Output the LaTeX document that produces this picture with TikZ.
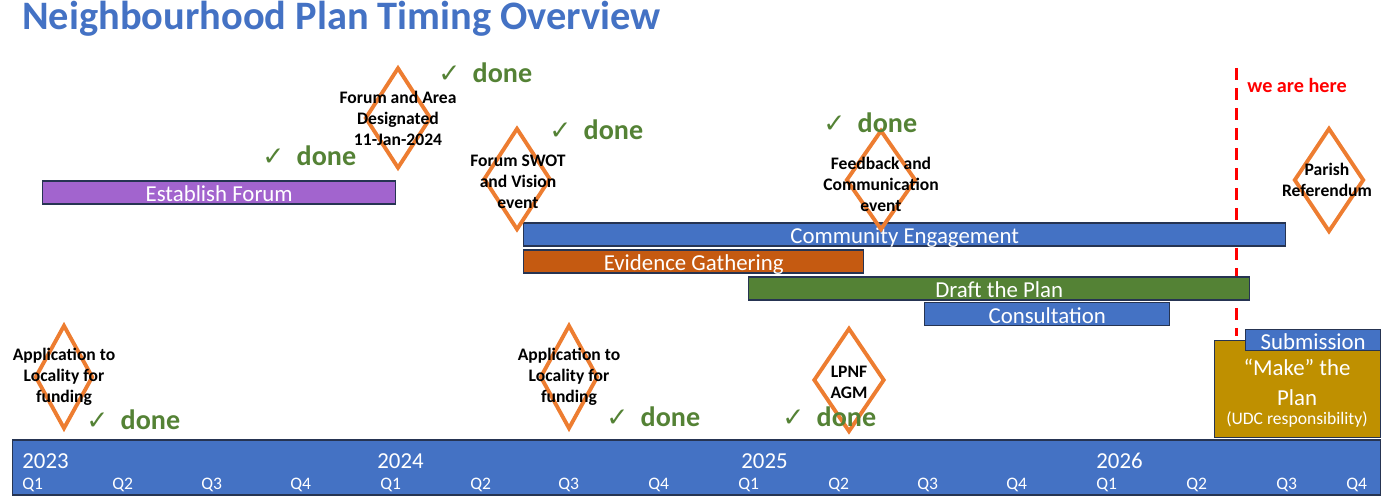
\documentclass[tikz,border=0pt]{standalone}
\usepackage{fontspec}
\setmainfont{Carlito}
\newfontfamily\symfont{DejaVu Sans}
\usepackage{tikz}
\usetikzlibrary{shapes.geometric}
\usepackage{xcolor}
\definecolor{planblue}{RGB}{68,114,196}
\definecolor{edgenavy}{RGB}{38,52,82}
\definecolor{forumpurple}{RGB}{162,100,206}
\definecolor{evidorange}{RGB}{197,90,17}
\definecolor{draftgreen}{RGB}{84,130,53}
\definecolor{makegold}{RGB}{191,144,0}
\definecolor{mileorange}{RGB}{237,125,49}
\definecolor{herered}{RGB}{255,0,0}
\newcommand{\donetick}{{\symfont\mdseries\fontsize{15}{17}\selectfont ✓}\hspace{7pt}done}

\begin{document}
\begin{tikzpicture}[x=0.02cm, y=-0.02cm, every node/.style={align=center,inner sep=0pt}, box/.style={rectangle,draw=edgenavy,line width=0.8pt,text=white,font=\fontsize{13}{15}\selectfont,minimum height={23*0.02cm},anchor=west}, bar/.style={box,text height=10.5pt,text depth=0pt}, mile/.style={diamond,draw=mileorange,line width=2.2pt,minimum width={66*0.02cm},minimum height={102*0.02cm}}, mtext/.style={font=\bfseries\fontsize{10}{12}\selectfont}, done/.style={anchor=west,text=draftgreen,font=\bfseries\fontsize{16}{18}\selectfont}, year/.style={anchor=west,text=white,font=\fontsize{13}{15}\selectfont}, qtr/.style={anchor=west,text=white,font=\fontsize{10}{12}\selectfont}, nowline/.style={herered,line width=1.7pt,dash pattern=on 0.24cm off 0.16cm}]
  \useasboundingbox (0,0) rectangle (1383,500);
  \node[anchor=west,text=planblue,font=\bfseries\fontsize{23}{26}\selectfont] (title) at (22,19) {Neighbourhood Plan Timing Overview};
  % we are here
  \coordinate (nowtop) at (1236,68); \coordinate (nowbot) at (1236,336);
  \draw[nowline] (nowtop) -- (nowbot);
  \node[anchor=west,text=herered,font=\bfseries\fontsize{11.5}{13}\selectfont] (here) at (1247,85) {we are here};
  % work streams
  \node[bar,fill=forumpurple,minimum width={353*0.02cm}] (forum) at (42,192.5) {Establish Forum};
  \node[bar,fill=planblue,minimum width={762*0.02cm}] (engage) at (523,234.5) {Community Engagement};
  \node[bar,fill=evidorange,minimum width={340*0.02cm}] (evid) at (523,261.5) {Evidence Gathering};
  \node[bar,fill=draftgreen,minimum width={501*0.02cm}] (draft) at (748,288.5) {Draft the Plan};
  \node[bar,fill=planblue,minimum width={245*0.02cm}] (consult) at (924,314) {Consultation};
  \node[box,fill=makegold,minimum width={166*0.02cm},minimum height={97*0.02cm}] (make) at (1214,389) {};
  \node[text=white,font=\fontsize{13}{17}\selectfont] (maket) at (1297,393) {“Make” the\\Plan\\[-6pt]{\fontsize{10}{12}\selectfont (UDC responsibility)}};
  \node[bar,fill=planblue,minimum width={135*0.02cm},minimum height={21*0.02cm}] (submit) at (1245,340) {Submission};
  % milestones
  \node[mile,minimum width={58*0.02cm},minimum height={104*0.02cm}] (apply1) at (64,377) {};
  \node[mile,minimum height={101*0.02cm}] (desig) at (398,118) {};
  \node[mile,minimum width={67*0.02cm}] (swot) at (517,179) {};
  \node[mile,minimum width={70*0.02cm},minimum height={100*0.02cm}] (feedb) at (881,180) {};
  \node[mile,minimum width={70*0.02cm},minimum height={104*0.02cm}] (refer) at (1329,180) {};
  \node[mile,minimum width={58*0.02cm},minimum height={104*0.02cm}] (apply2) at (569,377) {};
  \node[mile,minimum width={71*0.02cm},minimum height={104*0.02cm}] (agm) at (849,380) {};
  \node[mtext] (apply1t) at (apply1) {Application to\\Locality for\\funding};
  \node[mtext] (desigt) at (398,118) {Forum and Area\\Designated\\11-Jan-2024};
  \node[mtext] (swott) at (518,182) {Forum SWOT\\and Vision\\event};
  \node[mtext] (feedbt) at (881,184) {Feedback and\\Communication\\event};
  \node[mtext] (refert) at (1327,180) {Parish\\Referendum};
  \node[mtext] (apply2t) at (apply2) {Application to\\Locality for\\funding};
  \node[mtext] (agmt) at (849,382) {LPNF\\AGM};
  % done marks
  \node[done] (dn1) at (86,420) {\donetick}; \node[done] (dn2) at (438,73) {\donetick};
  \node[done] (dn3) at (262,156) {\donetick}; \node[done] (dn4) at (549,130) {\donetick};
  \node[done] (dn5) at (823,123) {\donetick}; \node[done] (dn6) at (606,417) {\donetick};
  \node[done] (dn7) at (782,417) {\donetick};
  % time axis
  \node[box,fill=planblue,minimum width={1368*0.02cm},minimum height={55*0.02cm}] (axis) at (12,467.5) {};
  \node[year] (y23) at (22,461) {2023}; \node[year] (y24) at (377,461) {2024};
  \node[year] (y25) at (741,461) {2025}; \node[year] (y26) at (1096,461) {2026};
  \node[qtr] (q231) at (22,485) {Q1}; \node[qtr] (q232) at (112,485) {Q2}; \node[qtr] (q233) at (201,485) {Q3}; \node[qtr] (q234) at (290,485) {Q4};
  \node[qtr] (q241) at (380,485) {Q1}; \node[qtr] (q242) at (470,485) {Q2}; \node[qtr] (q243) at (558,485) {Q3}; \node[qtr] (q244) at (648,485) {Q4};
  \node[qtr] (q251) at (738,485) {Q1}; \node[qtr] (q252) at (828,485) {Q2}; \node[qtr] (q253) at (917,485) {Q3}; \node[qtr] (q254) at (1006,485) {Q4};
  \node[qtr] (q261) at (1096,485) {Q1}; \node[qtr] (q262) at (1186,485) {Q2}; \node[qtr] (q263) at (1276,485) {Q3}; \node[qtr] (q264) at (1346,485) {Q4};
\end{tikzpicture}
\end{document}
